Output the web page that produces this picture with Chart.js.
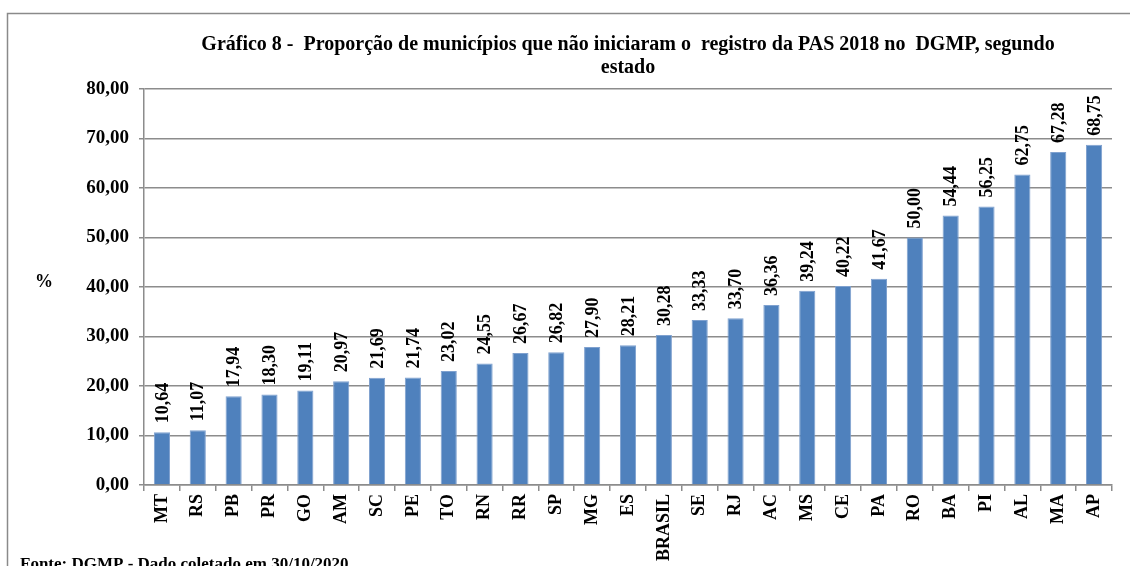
<!DOCTYPE html>
<html>
<head>
<meta charset="utf-8">
<script src="https://cdn.jsdelivr.net/npm/chart.js@4"></script>
<style>
  html, body { margin: 0; padding: 0; background: #fff; }
  canvas { display: block; }
</style>
</head>
<body>
<canvas id="chart" width="1130" height="566"></canvas>
<script>
const estados = ["MT", "RS", "PB", "PR", "GO", "AM", "SC", "PE", "TO", "RN", "RR", "SP", "MG", "ES", "BRASIL",
  "SE", "RJ", "AC", "MS", "CE", "PA", "RO", "BA", "PI", "AL", "MA", "AP"];
const proporcao = [10.64, 11.07, 17.94, 18.30, 19.11, 20.97, 21.69, 21.74, 23.02, 24.55, 26.67, 26.82, 27.90, 28.21, 30.28,
  33.33, 33.70, 36.36, 39.24, 40.22, 41.67, 50.00, 54.44, 56.25, 62.75, 67.28, 68.75];
const titulo = ["Gráfico 8 -  Proporção de municípios que não iniciaram o  registro da PAS 2018 no  DGMP, segundo", "estado"];
const fonte = "Fonte: DGMP - Dado coletado em 30/10/2020";

const serif = "'Liberation Serif', 'Times New Roman', serif";
const gridGray = "#8c8c8c";
const fmt = (v) => v.toFixed(2).replace(".", ",");

// frame, "%" and source note
const extras = {
  id: "extras",
  beforeDraw(chart) {
    const ctx = chart.ctx;
    ctx.save();
    ctx.strokeStyle = "#8a8a8a";
    ctx.lineWidth = 1.5;
    ctx.beginPath();
    ctx.moveTo(7.5, 580);
    ctx.lineTo(7.5, 13.5);
    ctx.lineTo(1140, 13.5);
    ctx.stroke();
    ctx.restore();
  },
  afterDraw(chart) {
    const ctx = chart.ctx;
    ctx.save();
    ctx.fillStyle = "#000";
    ctx.font = "bold 18px " + serif;
    ctx.textAlign = "center";
    ctx.textBaseline = "middle";
    ctx.fillText("%", 44, 282);
    ctx.font = "bold 17px " + serif;
    ctx.textAlign = "left";
    ctx.textBaseline = "alphabetic";
    ctx.fillText(fonte, 20, 569);
    ctx.restore();
  },
};

// value above each bar, rotated
const valueLabels = {
  id: "valueLabels",
  afterDatasetsDraw(chart) {
    const ctx = chart.ctx;
    const meta = chart.getDatasetMeta(0);
    ctx.save();
    ctx.fillStyle = "#000";
    ctx.font = "bold 18px " + serif;
    ctx.textAlign = "left";
    ctx.textBaseline = "middle";
    meta.data.forEach((bar, i) => {
      ctx.save();
      ctx.translate(bar.x, bar.y - 9);
      ctx.rotate(-Math.PI / 2);
      ctx.fillText(fmt(proporcao[i]), 0, 1);
      ctx.restore();
    });
    ctx.restore();
  },
};

new Chart(document.getElementById("chart"), {
  type: "bar",
  data: {
    labels: estados,
    datasets: [{
      data: proporcao,
      backgroundColor: "#4f81bd",
      borderColor: "#7fa1cf",
      borderWidth: 1,
      barPercentage: 0.45,
      categoryPercentage: 1,
    }],
  },
  options: {
    responsive: false,
    animation: false,
    events: [],
    layout: { padding: { left: 0, right: 18, top: 0, bottom: 0 } },
    plugins: {
      legend: { display: false },
      tooltip: { enabled: false },
      title: {
        display: true,
        text: titulo,
        fullSize: false,
        color: "#000",
        font: { family: serif, size: 20, weight: "bold", lineHeight: 1.15 },
        padding: { top: 33, bottom: 10 },
      },
    },
    scales: {
      x: {
        afterFit(scale) { scale.height = 81; },
        grid: { drawOnChartArea: false, drawTicks: true, tickLength: 6, color: gridGray, lineWidth: 1.5 },
        border: { color: gridGray, width: 1.5 },
        ticks: {
          minRotation: 90,
          maxRotation: 90,
          autoSkip: false,
          padding: 3,
          color: "#000",
          font: { family: serif, size: 18, weight: "bold" },
        },
      },
      y: {
        min: 0,
        max: 80,
        afterFit(scale) { scale.width = 144; },
        grid: { color: gridGray, lineWidth: 1.5, tickLength: 5 },
        border: { color: gridGray, width: 1.5 },
        ticks: {
          stepSize: 10,
          padding: 10,
          color: "#000",
          font: { family: serif, size: 19, weight: "bold" },
          callback: (v) => fmt(v),
        },
      },
    },
  },
  plugins: [extras, valueLabels],
});
</script>
</body>
</html>
